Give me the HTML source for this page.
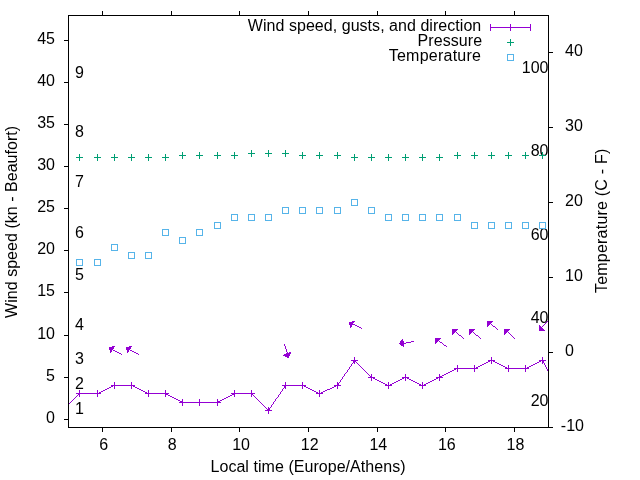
<!DOCTYPE html><html><head><meta charset="utf-8"><style>html,body{margin:0;padding:0;background:#fff}svg{display:block;will-change:transform}text{font-family:"Liberation Sans",sans-serif;font-size:16px;fill:#000}</style></head><body>
<svg width="640" height="480" viewBox="0 0 640 480">
<rect width="640" height="480" fill="#fff"/>
<text x="75" y="414.2">1</text>
<text x="75" y="389.0">2</text>
<text x="75" y="363.7">3</text>
<text x="75" y="330.1">4</text>
<text x="75" y="279.7">5</text>
<text x="75" y="237.6">6</text>
<text x="75" y="187.2">7</text>
<text x="75" y="136.7">8</text>
<text x="75" y="77.9">9</text>
<text x="548.5" y="406.0" text-anchor="end">20</text>
<text x="548.5" y="322.8" text-anchor="end">40</text>
<text x="548.5" y="239.6" text-anchor="end">60</text>
<text x="548.5" y="156.3" text-anchor="end">80</text>
<text x="548.5" y="73.1" text-anchor="end">100</text>
<g shape-rendering="crispEdges">
<path fill="#009e73" d="M510 39h1v1h-1zM510 40h1v1h-1zM510 41h1v1h-1zM507 42h7v1h-7zM510 43h1v1h-1zM510 44h1v1h-1zM510 45h1v1h-1zM251 150h1v1h-1zM268 150h1v1h-1zM285 150h1v1h-1zM251 151h1v1h-1zM268 151h1v1h-1zM285 151h1v1h-1zM182 152h1v1h-1zM199 152h1v1h-1zM217 152h1v1h-1zM234 152h1v1h-1zM251 152h1v1h-1zM268 152h1v1h-1zM285 152h1v1h-1zM302 152h1v1h-1zM319 152h1v1h-1zM337 152h1v1h-1zM457 152h1v1h-1zM474 152h1v1h-1zM491 152h1v1h-1zM508 152h1v1h-1zM525 152h1v1h-1zM542 152h1v1h-1zM182 153h1v1h-1zM199 153h1v1h-1zM217 153h1v1h-1zM234 153h1v1h-1zM248 153h7v1h-7zM265 153h7v1h-7zM282 153h7v1h-7zM302 153h1v1h-1zM319 153h1v1h-1zM337 153h1v1h-1zM457 153h1v1h-1zM474 153h1v1h-1zM491 153h1v1h-1zM508 153h1v1h-1zM525 153h1v1h-1zM542 153h1v1h-1zM79 154h1v1h-1zM97 154h1v1h-1zM114 154h1v1h-1zM131 154h1v1h-1zM148 154h1v1h-1zM165 154h1v1h-1zM182 154h1v1h-1zM199 154h1v1h-1zM217 154h1v1h-1zM234 154h1v1h-1zM251 154h1v1h-1zM268 154h1v1h-1zM285 154h1v1h-1zM302 154h1v1h-1zM319 154h1v1h-1zM337 154h1v1h-1zM354 154h1v1h-1zM371 154h1v1h-1zM388 154h1v1h-1zM405 154h1v1h-1zM422 154h1v1h-1zM439 154h1v1h-1zM457 154h1v1h-1zM474 154h1v1h-1zM491 154h1v1h-1zM508 154h1v1h-1zM525 154h1v1h-1zM542 154h1v1h-1zM79 155h1v1h-1zM97 155h1v1h-1zM114 155h1v1h-1zM131 155h1v1h-1zM148 155h1v1h-1zM165 155h1v1h-1zM179 155h7v1h-7zM196 155h7v1h-7zM214 155h7v1h-7zM231 155h7v1h-7zM251 155h1v1h-1zM268 155h1v1h-1zM285 155h1v1h-1zM299 155h7v1h-7zM316 155h7v1h-7zM334 155h7v1h-7zM354 155h1v1h-1zM371 155h1v1h-1zM388 155h1v1h-1zM405 155h1v1h-1zM422 155h1v1h-1zM439 155h1v1h-1zM454 155h7v1h-7zM471 155h7v1h-7zM488 155h7v1h-7zM505 155h7v1h-7zM522 155h7v1h-7zM539 155h7v1h-7zM79 156h1v1h-1zM97 156h1v1h-1zM114 156h1v1h-1zM131 156h1v1h-1zM148 156h1v1h-1zM165 156h1v1h-1zM182 156h1v1h-1zM199 156h1v1h-1zM217 156h1v1h-1zM234 156h1v1h-1zM251 156h1v1h-1zM268 156h1v1h-1zM285 156h1v1h-1zM302 156h1v1h-1zM319 156h1v1h-1zM337 156h1v1h-1zM354 156h1v1h-1zM371 156h1v1h-1zM388 156h1v1h-1zM405 156h1v1h-1zM422 156h1v1h-1zM439 156h1v1h-1zM457 156h1v1h-1zM474 156h1v1h-1zM491 156h1v1h-1zM508 156h1v1h-1zM525 156h1v1h-1zM542 156h1v1h-1zM76 157h7v1h-7zM94 157h7v1h-7zM111 157h7v1h-7zM128 157h7v1h-7zM145 157h7v1h-7zM162 157h7v1h-7zM182 157h1v1h-1zM199 157h1v1h-1zM217 157h1v1h-1zM234 157h1v1h-1zM302 157h1v1h-1zM319 157h1v1h-1zM337 157h1v1h-1zM351 157h7v1h-7zM368 157h7v1h-7zM385 157h7v1h-7zM402 157h7v1h-7zM419 157h7v1h-7zM436 157h7v1h-7zM457 157h1v1h-1zM474 157h1v1h-1zM491 157h1v1h-1zM508 157h1v1h-1zM525 157h1v1h-1zM542 157h1v1h-1zM79 158h1v1h-1zM97 158h1v1h-1zM114 158h1v1h-1zM131 158h1v1h-1zM148 158h1v1h-1zM165 158h1v1h-1zM182 158h1v1h-1zM199 158h1v1h-1zM217 158h1v1h-1zM234 158h1v1h-1zM302 158h1v1h-1zM319 158h1v1h-1zM337 158h1v1h-1zM354 158h1v1h-1zM371 158h1v1h-1zM388 158h1v1h-1zM405 158h1v1h-1zM422 158h1v1h-1zM439 158h1v1h-1zM457 158h1v1h-1zM474 158h1v1h-1zM491 158h1v1h-1zM508 158h1v1h-1zM525 158h1v1h-1zM542 158h1v1h-1zM79 159h1v1h-1zM97 159h1v1h-1zM114 159h1v1h-1zM131 159h1v1h-1zM148 159h1v1h-1zM165 159h1v1h-1zM354 159h1v1h-1zM371 159h1v1h-1zM388 159h1v1h-1zM405 159h1v1h-1zM422 159h1v1h-1zM439 159h1v1h-1zM79 160h1v1h-1zM97 160h1v1h-1zM114 160h1v1h-1zM131 160h1v1h-1zM148 160h1v1h-1zM165 160h1v1h-1zM354 160h1v1h-1zM371 160h1v1h-1zM388 160h1v1h-1zM405 160h1v1h-1zM422 160h1v1h-1zM439 160h1v1h-1z"/>
<path fill="#56b4e9" d="M507 54h7v1h-7zM507 55h1v1h-1zM513 55h1v1h-1zM507 56h1v1h-1zM513 56h1v1h-1zM507 57h1v1h-1zM513 57h1v1h-1zM507 58h1v1h-1zM513 58h1v1h-1zM507 59h1v1h-1zM513 59h1v1h-1zM507 60h7v1h-7zM351 199h7v1h-7zM351 200h1v1h-1zM357 200h1v1h-1zM351 201h1v1h-1zM357 201h1v1h-1zM351 202h1v1h-1zM357 202h1v1h-1zM351 203h1v1h-1zM357 203h1v1h-1zM351 204h1v1h-1zM357 204h1v1h-1zM351 205h7v1h-7zM282 207h7v1h-7zM299 207h7v1h-7zM316 207h7v1h-7zM334 207h7v1h-7zM368 207h7v1h-7zM282 208h1v1h-1zM288 208h1v1h-1zM299 208h1v1h-1zM305 208h1v1h-1zM316 208h1v1h-1zM322 208h1v1h-1zM334 208h1v1h-1zM340 208h1v1h-1zM368 208h1v1h-1zM374 208h1v1h-1zM282 209h1v1h-1zM288 209h1v1h-1zM299 209h1v1h-1zM305 209h1v1h-1zM316 209h1v1h-1zM322 209h1v1h-1zM334 209h1v1h-1zM340 209h1v1h-1zM368 209h1v1h-1zM374 209h1v1h-1zM282 210h1v1h-1zM288 210h1v1h-1zM299 210h1v1h-1zM305 210h1v1h-1zM316 210h1v1h-1zM322 210h1v1h-1zM334 210h1v1h-1zM340 210h1v1h-1zM368 210h1v1h-1zM374 210h1v1h-1zM282 211h1v1h-1zM288 211h1v1h-1zM299 211h1v1h-1zM305 211h1v1h-1zM316 211h1v1h-1zM322 211h1v1h-1zM334 211h1v1h-1zM340 211h1v1h-1zM368 211h1v1h-1zM374 211h1v1h-1zM282 212h1v1h-1zM288 212h1v1h-1zM299 212h1v1h-1zM305 212h1v1h-1zM316 212h1v1h-1zM322 212h1v1h-1zM334 212h1v1h-1zM340 212h1v1h-1zM368 212h1v1h-1zM374 212h1v1h-1zM282 213h7v1h-7zM299 213h7v1h-7zM316 213h7v1h-7zM334 213h7v1h-7zM368 213h7v1h-7zM231 214h7v1h-7zM248 214h7v1h-7zM265 214h7v1h-7zM385 214h7v1h-7zM402 214h7v1h-7zM419 214h7v1h-7zM436 214h7v1h-7zM454 214h7v1h-7zM231 215h1v1h-1zM237 215h1v1h-1zM248 215h1v1h-1zM254 215h1v1h-1zM265 215h1v1h-1zM271 215h1v1h-1zM385 215h1v1h-1zM391 215h1v1h-1zM402 215h1v1h-1zM408 215h1v1h-1zM419 215h1v1h-1zM425 215h1v1h-1zM436 215h1v1h-1zM442 215h1v1h-1zM454 215h1v1h-1zM460 215h1v1h-1zM231 216h1v1h-1zM237 216h1v1h-1zM248 216h1v1h-1zM254 216h1v1h-1zM265 216h1v1h-1zM271 216h1v1h-1zM385 216h1v1h-1zM391 216h1v1h-1zM402 216h1v1h-1zM408 216h1v1h-1zM419 216h1v1h-1zM425 216h1v1h-1zM436 216h1v1h-1zM442 216h1v1h-1zM454 216h1v1h-1zM460 216h1v1h-1zM231 217h1v1h-1zM237 217h1v1h-1zM248 217h1v1h-1zM254 217h1v1h-1zM265 217h1v1h-1zM271 217h1v1h-1zM385 217h1v1h-1zM391 217h1v1h-1zM402 217h1v1h-1zM408 217h1v1h-1zM419 217h1v1h-1zM425 217h1v1h-1zM436 217h1v1h-1zM442 217h1v1h-1zM454 217h1v1h-1zM460 217h1v1h-1zM231 218h1v1h-1zM237 218h1v1h-1zM248 218h1v1h-1zM254 218h1v1h-1zM265 218h1v1h-1zM271 218h1v1h-1zM385 218h1v1h-1zM391 218h1v1h-1zM402 218h1v1h-1zM408 218h1v1h-1zM419 218h1v1h-1zM425 218h1v1h-1zM436 218h1v1h-1zM442 218h1v1h-1zM454 218h1v1h-1zM460 218h1v1h-1zM231 219h1v1h-1zM237 219h1v1h-1zM248 219h1v1h-1zM254 219h1v1h-1zM265 219h1v1h-1zM271 219h1v1h-1zM385 219h1v1h-1zM391 219h1v1h-1zM402 219h1v1h-1zM408 219h1v1h-1zM419 219h1v1h-1zM425 219h1v1h-1zM436 219h1v1h-1zM442 219h1v1h-1zM454 219h1v1h-1zM460 219h1v1h-1zM231 220h7v1h-7zM248 220h7v1h-7zM265 220h7v1h-7zM385 220h7v1h-7zM402 220h7v1h-7zM419 220h7v1h-7zM436 220h7v1h-7zM454 220h7v1h-7zM214 222h7v1h-7zM471 222h7v1h-7zM488 222h7v1h-7zM505 222h7v1h-7zM522 222h7v1h-7zM539 222h7v1h-7zM214 223h1v1h-1zM220 223h1v1h-1zM471 223h1v1h-1zM477 223h1v1h-1zM488 223h1v1h-1zM494 223h1v1h-1zM505 223h1v1h-1zM511 223h1v1h-1zM522 223h1v1h-1zM528 223h1v1h-1zM539 223h1v1h-1zM545 223h1v1h-1zM214 224h1v1h-1zM220 224h1v1h-1zM471 224h1v1h-1zM477 224h1v1h-1zM488 224h1v1h-1zM494 224h1v1h-1zM505 224h1v1h-1zM511 224h1v1h-1zM522 224h1v1h-1zM528 224h1v1h-1zM539 224h1v1h-1zM545 224h1v1h-1zM214 225h1v1h-1zM220 225h1v1h-1zM471 225h1v1h-1zM477 225h1v1h-1zM488 225h1v1h-1zM494 225h1v1h-1zM505 225h1v1h-1zM511 225h1v1h-1zM522 225h1v1h-1zM528 225h1v1h-1zM539 225h1v1h-1zM545 225h1v1h-1zM214 226h1v1h-1zM220 226h1v1h-1zM471 226h1v1h-1zM477 226h1v1h-1zM488 226h1v1h-1zM494 226h1v1h-1zM505 226h1v1h-1zM511 226h1v1h-1zM522 226h1v1h-1zM528 226h1v1h-1zM539 226h1v1h-1zM545 226h1v1h-1zM214 227h1v1h-1zM220 227h1v1h-1zM471 227h1v1h-1zM477 227h1v1h-1zM488 227h1v1h-1zM494 227h1v1h-1zM505 227h1v1h-1zM511 227h1v1h-1zM522 227h1v1h-1zM528 227h1v1h-1zM539 227h1v1h-1zM545 227h1v1h-1zM214 228h7v1h-7zM471 228h7v1h-7zM488 228h7v1h-7zM505 228h7v1h-7zM522 228h7v1h-7zM539 228h7v1h-7zM162 229h7v1h-7zM196 229h7v1h-7zM162 230h1v1h-1zM168 230h1v1h-1zM196 230h1v1h-1zM202 230h1v1h-1zM162 231h1v1h-1zM168 231h1v1h-1zM196 231h1v1h-1zM202 231h1v1h-1zM162 232h1v1h-1zM168 232h1v1h-1zM196 232h1v1h-1zM202 232h1v1h-1zM162 233h1v1h-1zM168 233h1v1h-1zM196 233h1v1h-1zM202 233h1v1h-1zM162 234h1v1h-1zM168 234h1v1h-1zM196 234h1v1h-1zM202 234h1v1h-1zM162 235h7v1h-7zM196 235h7v1h-7zM179 237h7v1h-7zM179 238h1v1h-1zM185 238h1v1h-1zM179 239h1v1h-1zM185 239h1v1h-1zM179 240h1v1h-1zM185 240h1v1h-1zM179 241h1v1h-1zM185 241h1v1h-1zM179 242h1v1h-1zM185 242h1v1h-1zM179 243h7v1h-7zM111 244h7v1h-7zM111 245h1v1h-1zM117 245h1v1h-1zM111 246h1v1h-1zM117 246h1v1h-1zM111 247h1v1h-1zM117 247h1v1h-1zM111 248h1v1h-1zM117 248h1v1h-1zM111 249h1v1h-1zM117 249h1v1h-1zM111 250h7v1h-7zM128 252h7v1h-7zM145 252h7v1h-7zM128 253h1v1h-1zM134 253h1v1h-1zM145 253h1v1h-1zM151 253h1v1h-1zM128 254h1v1h-1zM134 254h1v1h-1zM145 254h1v1h-1zM151 254h1v1h-1zM128 255h1v1h-1zM134 255h1v1h-1zM145 255h1v1h-1zM151 255h1v1h-1zM128 256h1v1h-1zM134 256h1v1h-1zM145 256h1v1h-1zM151 256h1v1h-1zM128 257h1v1h-1zM134 257h1v1h-1zM145 257h1v1h-1zM151 257h1v1h-1zM128 258h7v1h-7zM145 258h7v1h-7zM76 259h7v1h-7zM94 259h7v1h-7zM76 260h1v1h-1zM82 260h1v1h-1zM94 260h1v1h-1zM100 260h1v1h-1zM76 261h1v1h-1zM82 261h1v1h-1zM94 261h1v1h-1zM100 261h1v1h-1zM76 262h1v1h-1zM82 262h1v1h-1zM94 262h1v1h-1zM100 262h1v1h-1zM76 263h1v1h-1zM82 263h1v1h-1zM94 263h1v1h-1zM100 263h1v1h-1zM76 264h1v1h-1zM82 264h1v1h-1zM94 264h1v1h-1zM100 264h1v1h-1zM76 265h7v1h-7zM94 265h7v1h-7z"/>
<path fill="#9400d3" d="M490 24h1v1h-1zM510 24h1v1h-1zM530 24h1v1h-1zM490 25h1v1h-1zM510 25h1v1h-1zM530 25h1v1h-1zM490 26h1v1h-1zM510 26h1v1h-1zM530 26h1v1h-1zM490 27h41v1h-41zM490 28h1v1h-1zM510 28h1v1h-1zM530 28h1v1h-1zM490 29h1v1h-1zM510 29h1v1h-1zM530 29h1v1h-1zM490 30h1v1h-1zM510 30h1v1h-1zM530 30h1v1h-1zM548 320h1v1h-1zM352 321h3v1h-3zM487 321h6v1h-6zM547 321h1v1h-1zM349 322h5v1h-5zM487 322h5v1h-5zM546 322h1v1h-1zM349 323h4v1h-4zM487 323h4v1h-4zM545 323h1v1h-1zM349 324h6v1h-6zM487 324h3v1h-3zM491 324h1v1h-1zM544 324h1v1h-1zM350 325h2v1h-2zM355 325h2v1h-2zM487 325h2v1h-2zM492 325h1v1h-1zM539 325h1v1h-1zM543 325h1v1h-1zM350 326h2v1h-2zM357 326h2v1h-2zM487 326h1v1h-1zM493 326h2v1h-2zM539 326h2v1h-2zM542 326h1v1h-1zM350 327h1v1h-1zM359 327h2v1h-2zM495 327h1v1h-1zM539 327h3v1h-3zM361 328h1v1h-1zM496 328h1v1h-1zM539 328h4v1h-4zM452 329h6v1h-6zM469 329h6v1h-6zM497 329h1v1h-1zM504 329h6v1h-6zM539 329h5v1h-5zM452 330h5v1h-5zM469 330h5v1h-5zM504 330h5v1h-5zM539 330h6v1h-6zM452 331h4v1h-4zM469 331h4v1h-4zM504 331h4v1h-4zM452 332h3v1h-3zM456 332h1v1h-1zM469 332h3v1h-3zM473 332h1v1h-1zM504 332h3v1h-3zM508 332h1v1h-1zM452 333h2v1h-2zM457 333h1v1h-1zM469 333h2v1h-2zM474 333h1v1h-1zM504 333h2v1h-2zM509 333h1v1h-1zM452 334h1v1h-1zM458 334h1v1h-1zM469 334h1v1h-1zM475 334h1v1h-1zM504 334h1v1h-1zM510 334h1v1h-1zM459 335h2v1h-2zM476 335h2v1h-2zM511 335h1v1h-1zM461 336h1v1h-1zM478 336h1v1h-1zM512 336h1v1h-1zM462 337h1v1h-1zM479 337h1v1h-1zM513 337h1v1h-1zM435 338h6v1h-6zM463 338h1v1h-1zM480 338h1v1h-1zM514 338h1v1h-1zM402 339h1v1h-1zM435 339h5v1h-5zM401 340h2v1h-2zM435 340h4v1h-4zM400 341h4v1h-4zM411 341h3v1h-3zM435 341h3v1h-3zM439 341h1v1h-1zM400 342h4v1h-4zM406 342h5v1h-5zM435 342h2v1h-2zM440 342h2v1h-2zM399 343h7v1h-7zM435 343h1v1h-1zM442 343h1v1h-1zM284 344h1v1h-1zM400 344h4v1h-4zM443 344h1v1h-1zM284 345h1v1h-1zM401 345h3v1h-3zM444 345h2v1h-2zM112 346h3v1h-3zM129 346h3v1h-3zM285 346h1v1h-1zM403 346h1v1h-1zM446 346h1v1h-1zM109 347h5v1h-5zM126 347h5v1h-5zM285 347h1v1h-1zM109 348h5v1h-5zM126 348h5v1h-5zM285 348h1v1h-1zM109 349h4v1h-4zM126 349h4v1h-4zM286 349h1v1h-1zM110 350h2v1h-2zM113 350h2v1h-2zM127 350h2v1h-2zM130 350h2v1h-2zM286 350h1v1h-1zM110 351h2v1h-2zM115 351h2v1h-2zM127 351h2v1h-2zM132 351h2v1h-2zM286 351h1v1h-1zM110 352h1v1h-1zM117 352h2v1h-2zM127 352h1v1h-1zM134 352h2v1h-2zM287 352h1v1h-1zM289 352h2v1h-2zM119 353h2v1h-2zM136 353h2v1h-2zM286 353h5v1h-5zM121 354h1v1h-1zM138 354h1v1h-1zM284 354h6v1h-6zM283 355h7v1h-7zM285 356h4v1h-4zM287 357h2v1h-2zM354 357h1v1h-1zM491 357h1v1h-1zM542 357h1v1h-1zM354 358h1v1h-1zM491 358h1v1h-1zM542 358h1v1h-1zM354 359h1v1h-1zM491 359h1v1h-1zM542 359h1v1h-1zM351 360h7v1h-7zM488 360h7v1h-7zM539 360h7v1h-7zM353 361h3v1h-3zM488 361h2v1h-2zM491 361h1v1h-1zM493 361h2v1h-2zM539 361h2v1h-2zM542 361h2v1h-2zM353 362h2v1h-2zM356 362h1v1h-1zM486 362h2v1h-2zM491 362h1v1h-1zM495 362h2v1h-2zM537 362h2v1h-2zM542 362h2v1h-2zM352 363h1v1h-1zM354 363h1v1h-1zM357 363h1v1h-1zM484 363h2v1h-2zM491 363h1v1h-1zM497 363h2v1h-2zM535 363h2v1h-2zM542 363h1v1h-1zM544 363h1v1h-1zM351 364h1v1h-1zM358 364h1v1h-1zM482 364h2v1h-2zM499 364h2v1h-2zM533 364h2v1h-2zM544 364h1v1h-1zM351 365h1v1h-1zM359 365h1v1h-1zM457 365h1v1h-1zM474 365h1v1h-1zM480 365h2v1h-2zM501 365h2v1h-2zM508 365h1v1h-1zM525 365h1v1h-1zM531 365h2v1h-2zM545 365h1v1h-1zM350 366h1v1h-1zM360 366h1v1h-1zM457 366h1v1h-1zM474 366h1v1h-1zM478 366h2v1h-2zM503 366h2v1h-2zM508 366h1v1h-1zM525 366h1v1h-1zM529 366h2v1h-2zM545 366h1v1h-1zM349 367h1v1h-1zM361 367h1v1h-1zM457 367h1v1h-1zM474 367h1v1h-1zM476 367h2v1h-2zM505 367h2v1h-2zM508 367h1v1h-1zM525 367h1v1h-1zM527 367h2v1h-2zM546 367h1v1h-1zM349 368h1v1h-1zM362 368h1v1h-1zM454 368h24v1h-24zM505 368h24v1h-24zM546 368h1v1h-1zM348 369h1v1h-1zM363 369h1v1h-1zM454 369h2v1h-2zM457 369h1v1h-1zM474 369h1v1h-1zM508 369h1v1h-1zM525 369h1v1h-1zM547 369h1v1h-1zM347 370h1v1h-1zM364 370h1v1h-1zM452 370h2v1h-2zM457 370h1v1h-1zM474 370h1v1h-1zM508 370h1v1h-1zM525 370h1v1h-1zM547 370h1v1h-1zM347 371h1v1h-1zM365 371h1v1h-1zM450 371h2v1h-2zM457 371h1v1h-1zM474 371h1v1h-1zM508 371h1v1h-1zM525 371h1v1h-1zM548 371h1v1h-1zM346 372h1v1h-1zM366 372h1v1h-1zM448 372h2v1h-2zM548 372h1v1h-1zM345 373h1v1h-1zM367 373h1v1h-1zM446 373h2v1h-2zM344 374h1v1h-1zM368 374h1v1h-1zM371 374h1v1h-1zM405 374h1v1h-1zM439 374h1v1h-1zM444 374h2v1h-2zM344 375h1v1h-1zM369 375h1v1h-1zM371 375h1v1h-1zM405 375h1v1h-1zM439 375h1v1h-1zM442 375h2v1h-2zM343 376h1v1h-1zM370 376h2v1h-2zM405 376h1v1h-1zM439 376h3v1h-3zM342 377h1v1h-1zM368 377h7v1h-7zM402 377h7v1h-7zM436 377h7v1h-7zM342 378h1v1h-1zM371 378h1v1h-1zM373 378h2v1h-2zM402 378h2v1h-2zM405 378h1v1h-1zM407 378h2v1h-2zM436 378h2v1h-2zM439 378h1v1h-1zM341 379h1v1h-1zM371 379h1v1h-1zM375 379h2v1h-2zM400 379h2v1h-2zM405 379h1v1h-1zM409 379h2v1h-2zM434 379h2v1h-2zM439 379h1v1h-1zM340 380h1v1h-1zM371 380h1v1h-1zM377 380h2v1h-2zM398 380h2v1h-2zM405 380h1v1h-1zM411 380h2v1h-2zM432 380h2v1h-2zM439 380h1v1h-1zM340 381h1v1h-1zM379 381h2v1h-2zM396 381h2v1h-2zM413 381h2v1h-2zM430 381h2v1h-2zM114 382h1v1h-1zM131 382h1v1h-1zM285 382h1v1h-1zM302 382h1v1h-1zM337 382h1v1h-1zM339 382h1v1h-1zM381 382h2v1h-2zM388 382h1v1h-1zM394 382h2v1h-2zM415 382h2v1h-2zM422 382h1v1h-1zM428 382h2v1h-2zM114 383h1v1h-1zM131 383h1v1h-1zM285 383h1v1h-1zM302 383h1v1h-1zM337 383h2v1h-2zM383 383h2v1h-2zM388 383h1v1h-1zM392 383h2v1h-2zM417 383h2v1h-2zM422 383h1v1h-1zM426 383h2v1h-2zM114 384h1v1h-1zM131 384h1v1h-1zM285 384h1v1h-1zM302 384h1v1h-1zM337 384h2v1h-2zM385 384h2v1h-2zM388 384h1v1h-1zM390 384h2v1h-2zM419 384h2v1h-2zM422 384h1v1h-1zM424 384h2v1h-2zM111 385h24v1h-24zM282 385h24v1h-24zM334 385h7v1h-7zM385 385h7v1h-7zM419 385h7v1h-7zM111 386h2v1h-2zM114 386h1v1h-1zM131 386h1v1h-1zM133 386h2v1h-2zM284 386h2v1h-2zM302 386h1v1h-1zM304 386h2v1h-2zM334 386h2v1h-2zM337 386h1v1h-1zM388 386h1v1h-1zM422 386h1v1h-1zM109 387h2v1h-2zM114 387h1v1h-1zM131 387h1v1h-1zM135 387h2v1h-2zM284 387h2v1h-2zM302 387h1v1h-1zM306 387h2v1h-2zM332 387h2v1h-2zM337 387h1v1h-1zM388 387h1v1h-1zM422 387h1v1h-1zM107 388h2v1h-2zM114 388h1v1h-1zM131 388h1v1h-1zM137 388h2v1h-2zM283 388h1v1h-1zM285 388h1v1h-1zM302 388h1v1h-1zM308 388h2v1h-2zM330 388h2v1h-2zM337 388h1v1h-1zM388 388h1v1h-1zM422 388h1v1h-1zM105 389h2v1h-2zM139 389h2v1h-2zM282 389h1v1h-1zM310 389h2v1h-2zM327 389h3v1h-3zM79 390h1v1h-1zM97 390h1v1h-1zM103 390h2v1h-2zM141 390h2v1h-2zM148 390h1v1h-1zM165 390h1v1h-1zM234 390h1v1h-1zM251 390h1v1h-1zM282 390h1v1h-1zM312 390h2v1h-2zM319 390h1v1h-1zM325 390h2v1h-2zM79 391h1v1h-1zM97 391h1v1h-1zM101 391h2v1h-2zM143 391h2v1h-2zM148 391h1v1h-1zM165 391h1v1h-1zM234 391h1v1h-1zM251 391h1v1h-1zM281 391h1v1h-1zM314 391h2v1h-2zM319 391h1v1h-1zM323 391h2v1h-2zM79 392h1v1h-1zM97 392h1v1h-1zM99 392h2v1h-2zM145 392h2v1h-2zM148 392h1v1h-1zM165 392h1v1h-1zM234 392h1v1h-1zM251 392h1v1h-1zM280 392h1v1h-1zM316 392h2v1h-2zM319 392h1v1h-1zM321 392h2v1h-2zM76 393h25v1h-25zM145 393h24v1h-24zM231 393h24v1h-24zM280 393h1v1h-1zM316 393h7v1h-7zM78 394h2v1h-2zM97 394h1v1h-1zM148 394h1v1h-1zM165 394h3v1h-3zM232 394h3v1h-3zM251 394h2v1h-2zM279 394h1v1h-1zM319 394h1v1h-1zM77 395h1v1h-1zM79 395h1v1h-1zM97 395h1v1h-1zM148 395h1v1h-1zM165 395h1v1h-1zM168 395h2v1h-2zM230 395h2v1h-2zM234 395h1v1h-1zM251 395h1v1h-1zM253 395h1v1h-1zM278 395h1v1h-1zM319 395h1v1h-1zM76 396h1v1h-1zM79 396h1v1h-1zM97 396h1v1h-1zM148 396h1v1h-1zM165 396h1v1h-1zM170 396h2v1h-2zM228 396h2v1h-2zM234 396h1v1h-1zM251 396h1v1h-1zM254 396h1v1h-1zM278 396h1v1h-1zM319 396h1v1h-1zM75 397h1v1h-1zM172 397h2v1h-2zM226 397h2v1h-2zM255 397h1v1h-1zM277 397h1v1h-1zM74 398h1v1h-1zM174 398h2v1h-2zM224 398h2v1h-2zM256 398h1v1h-1zM276 398h1v1h-1zM73 399h1v1h-1zM176 399h2v1h-2zM182 399h1v1h-1zM199 399h1v1h-1zM217 399h1v1h-1zM222 399h2v1h-2zM257 399h1v1h-1zM275 399h1v1h-1zM72 400h1v1h-1zM178 400h2v1h-2zM182 400h1v1h-1zM199 400h1v1h-1zM217 400h1v1h-1zM220 400h2v1h-2zM258 400h1v1h-1zM275 400h1v1h-1zM71 401h1v1h-1zM180 401h3v1h-3zM199 401h1v1h-1zM217 401h3v1h-3zM259 401h1v1h-1zM274 401h1v1h-1zM70 402h1v1h-1zM179 402h42v1h-42zM260 402h1v1h-1zM273 402h1v1h-1zM69 403h1v1h-1zM182 403h1v1h-1zM199 403h1v1h-1zM217 403h1v1h-1zM261 403h1v1h-1zM273 403h1v1h-1zM68 404h1v1h-1zM182 404h1v1h-1zM199 404h1v1h-1zM217 404h1v1h-1zM262 404h1v1h-1zM272 404h1v1h-1zM182 405h1v1h-1zM199 405h1v1h-1zM217 405h1v1h-1zM263 405h1v1h-1zM271 405h1v1h-1zM264 406h1v1h-1zM271 406h1v1h-1zM265 407h1v1h-1zM268 407h1v1h-1zM270 407h1v1h-1zM266 408h1v1h-1zM268 408h2v1h-2zM267 409h3v1h-3zM265 410h7v1h-7zM268 411h1v1h-1zM268 412h1v1h-1zM268 413h1v1h-1z"/>
<path fill="#000" d="M102 11h1v1h-1zM171 11h1v1h-1zM239 11h1v1h-1zM308 11h1v1h-1zM377 11h1v1h-1zM445 11h1v1h-1zM514 11h1v1h-1zM102 12h1v1h-1zM171 12h1v1h-1zM239 12h1v1h-1zM308 12h1v1h-1zM377 12h1v1h-1zM445 12h1v1h-1zM514 12h1v1h-1zM102 13h1v1h-1zM171 13h1v1h-1zM239 13h1v1h-1zM308 13h1v1h-1zM377 13h1v1h-1zM445 13h1v1h-1zM514 13h1v1h-1zM102 14h1v1h-1zM171 14h1v1h-1zM239 14h1v1h-1zM308 14h1v1h-1zM377 14h1v1h-1zM445 14h1v1h-1zM514 14h1v1h-1zM68 15h481v1h-481zM68 16h1v1h-1zM548 16h1v1h-1zM68 17h1v1h-1zM548 17h1v1h-1zM68 18h1v1h-1zM548 18h1v1h-1zM68 19h1v1h-1zM548 19h1v1h-1zM68 20h1v1h-1zM548 20h1v1h-1zM68 21h1v1h-1zM548 21h1v1h-1zM68 22h1v1h-1zM548 22h1v1h-1zM68 23h1v1h-1zM548 23h1v1h-1zM68 24h1v1h-1zM548 24h1v1h-1zM68 25h1v1h-1zM548 25h1v1h-1zM68 26h1v1h-1zM548 26h1v1h-1zM68 27h1v1h-1zM548 27h1v1h-1zM68 28h1v1h-1zM548 28h1v1h-1zM68 29h1v1h-1zM548 29h1v1h-1zM68 30h1v1h-1zM548 30h1v1h-1zM68 31h1v1h-1zM548 31h1v1h-1zM68 32h1v1h-1zM548 32h1v1h-1zM68 33h1v1h-1zM548 33h1v1h-1zM68 34h1v1h-1zM548 34h1v1h-1zM68 35h1v1h-1zM548 35h1v1h-1zM68 36h1v1h-1zM548 36h1v1h-1zM68 37h1v1h-1zM548 37h1v1h-1zM68 38h1v1h-1zM548 38h1v1h-1zM68 39h1v1h-1zM548 39h1v1h-1zM64 40h5v1h-5zM548 40h1v1h-1zM68 41h1v1h-1zM548 41h1v1h-1zM68 42h1v1h-1zM548 42h1v1h-1zM68 43h1v1h-1zM548 43h1v1h-1zM68 44h1v1h-1zM548 44h1v1h-1zM68 45h1v1h-1zM548 45h1v1h-1zM68 46h1v1h-1zM548 46h1v1h-1zM68 47h1v1h-1zM548 47h1v1h-1zM68 48h1v1h-1zM548 48h1v1h-1zM68 49h1v1h-1zM548 49h1v1h-1zM68 50h1v1h-1zM548 50h1v1h-1zM68 51h1v1h-1zM548 51h1v1h-1zM68 52h1v1h-1zM548 52h5v1h-5zM68 53h1v1h-1zM548 53h1v1h-1zM68 54h1v1h-1zM548 54h1v1h-1zM68 55h1v1h-1zM548 55h1v1h-1zM68 56h1v1h-1zM548 56h1v1h-1zM68 57h1v1h-1zM548 57h1v1h-1zM68 58h1v1h-1zM548 58h1v1h-1zM68 59h1v1h-1zM548 59h1v1h-1zM68 60h1v1h-1zM548 60h1v1h-1zM68 61h1v1h-1zM548 61h1v1h-1zM68 62h1v1h-1zM548 62h1v1h-1zM68 63h1v1h-1zM548 63h1v1h-1zM68 64h1v1h-1zM548 64h1v1h-1zM68 65h1v1h-1zM548 65h1v1h-1zM68 66h1v1h-1zM548 66h1v1h-1zM68 67h1v1h-1zM548 67h1v1h-1zM68 68h1v1h-1zM548 68h1v1h-1zM68 69h1v1h-1zM548 69h1v1h-1zM68 70h1v1h-1zM548 70h1v1h-1zM68 71h1v1h-1zM548 71h1v1h-1zM68 72h1v1h-1zM548 72h1v1h-1zM68 73h1v1h-1zM548 73h1v1h-1zM68 74h1v1h-1zM548 74h1v1h-1zM68 75h1v1h-1zM548 75h1v1h-1zM68 76h1v1h-1zM548 76h1v1h-1zM68 77h1v1h-1zM548 77h1v1h-1zM68 78h1v1h-1zM548 78h1v1h-1zM68 79h1v1h-1zM548 79h1v1h-1zM68 80h1v1h-1zM548 80h1v1h-1zM68 81h1v1h-1zM548 81h1v1h-1zM64 82h5v1h-5zM548 82h1v1h-1zM68 83h1v1h-1zM548 83h1v1h-1zM68 84h1v1h-1zM548 84h1v1h-1zM68 85h1v1h-1zM548 85h1v1h-1zM68 86h1v1h-1zM548 86h1v1h-1zM68 87h1v1h-1zM548 87h1v1h-1zM68 88h1v1h-1zM548 88h1v1h-1zM68 89h1v1h-1zM548 89h1v1h-1zM68 90h1v1h-1zM548 90h1v1h-1zM68 91h1v1h-1zM548 91h1v1h-1zM68 92h1v1h-1zM548 92h1v1h-1zM68 93h1v1h-1zM548 93h1v1h-1zM68 94h1v1h-1zM548 94h1v1h-1zM68 95h1v1h-1zM548 95h1v1h-1zM68 96h1v1h-1zM548 96h1v1h-1zM68 97h1v1h-1zM548 97h1v1h-1zM68 98h1v1h-1zM548 98h1v1h-1zM68 99h1v1h-1zM548 99h1v1h-1zM68 100h1v1h-1zM548 100h1v1h-1zM68 101h1v1h-1zM548 101h1v1h-1zM68 102h1v1h-1zM548 102h1v1h-1zM68 103h1v1h-1zM548 103h1v1h-1zM68 104h1v1h-1zM548 104h1v1h-1zM68 105h1v1h-1zM548 105h1v1h-1zM68 106h1v1h-1zM548 106h1v1h-1zM68 107h1v1h-1zM548 107h1v1h-1zM68 108h1v1h-1zM548 108h1v1h-1zM68 109h1v1h-1zM548 109h1v1h-1zM68 110h1v1h-1zM548 110h1v1h-1zM68 111h1v1h-1zM548 111h1v1h-1zM68 112h1v1h-1zM548 112h1v1h-1zM68 113h1v1h-1zM548 113h1v1h-1zM68 114h1v1h-1zM548 114h1v1h-1zM68 115h1v1h-1zM548 115h1v1h-1zM68 116h1v1h-1zM548 116h1v1h-1zM68 117h1v1h-1zM548 117h1v1h-1zM68 118h1v1h-1zM548 118h1v1h-1zM68 119h1v1h-1zM548 119h1v1h-1zM68 120h1v1h-1zM548 120h1v1h-1zM68 121h1v1h-1zM548 121h1v1h-1zM68 122h1v1h-1zM548 122h1v1h-1zM68 123h1v1h-1zM548 123h1v1h-1zM64 124h5v1h-5zM548 124h1v1h-1zM68 125h1v1h-1zM548 125h1v1h-1zM68 126h1v1h-1zM548 126h1v1h-1zM68 127h1v1h-1zM548 127h5v1h-5zM68 128h1v1h-1zM548 128h1v1h-1zM68 129h1v1h-1zM548 129h1v1h-1zM68 130h1v1h-1zM548 130h1v1h-1zM68 131h1v1h-1zM548 131h1v1h-1zM68 132h1v1h-1zM548 132h1v1h-1zM68 133h1v1h-1zM548 133h1v1h-1zM68 134h1v1h-1zM548 134h1v1h-1zM68 135h1v1h-1zM548 135h1v1h-1zM68 136h1v1h-1zM548 136h1v1h-1zM68 137h1v1h-1zM548 137h1v1h-1zM68 138h1v1h-1zM548 138h1v1h-1zM68 139h1v1h-1zM548 139h1v1h-1zM68 140h1v1h-1zM548 140h1v1h-1zM68 141h1v1h-1zM548 141h1v1h-1zM68 142h1v1h-1zM548 142h1v1h-1zM68 143h1v1h-1zM548 143h1v1h-1zM68 144h1v1h-1zM548 144h1v1h-1zM68 145h1v1h-1zM548 145h1v1h-1zM68 146h1v1h-1zM548 146h1v1h-1zM68 147h1v1h-1zM548 147h1v1h-1zM68 148h1v1h-1zM548 148h1v1h-1zM68 149h1v1h-1zM548 149h1v1h-1zM68 150h1v1h-1zM548 150h1v1h-1zM68 151h1v1h-1zM548 151h1v1h-1zM68 152h1v1h-1zM548 152h1v1h-1zM68 153h1v1h-1zM548 153h1v1h-1zM68 154h1v1h-1zM548 154h1v1h-1zM68 155h1v1h-1zM548 155h1v1h-1zM68 156h1v1h-1zM548 156h1v1h-1zM68 157h1v1h-1zM548 157h1v1h-1zM68 158h1v1h-1zM548 158h1v1h-1zM68 159h1v1h-1zM548 159h1v1h-1zM68 160h1v1h-1zM548 160h1v1h-1zM68 161h1v1h-1zM548 161h1v1h-1zM68 162h1v1h-1zM548 162h1v1h-1zM68 163h1v1h-1zM548 163h1v1h-1zM68 164h1v1h-1zM548 164h1v1h-1zM68 165h1v1h-1zM548 165h1v1h-1zM64 166h5v1h-5zM548 166h1v1h-1zM68 167h1v1h-1zM548 167h1v1h-1zM68 168h1v1h-1zM548 168h1v1h-1zM68 169h1v1h-1zM548 169h1v1h-1zM68 170h1v1h-1zM548 170h1v1h-1zM68 171h1v1h-1zM548 171h1v1h-1zM68 172h1v1h-1zM548 172h1v1h-1zM68 173h1v1h-1zM548 173h1v1h-1zM68 174h1v1h-1zM548 174h1v1h-1zM68 175h1v1h-1zM548 175h1v1h-1zM68 176h1v1h-1zM548 176h1v1h-1zM68 177h1v1h-1zM548 177h1v1h-1zM68 178h1v1h-1zM548 178h1v1h-1zM68 179h1v1h-1zM548 179h1v1h-1zM68 180h1v1h-1zM548 180h1v1h-1zM68 181h1v1h-1zM548 181h1v1h-1zM68 182h1v1h-1zM548 182h1v1h-1zM68 183h1v1h-1zM548 183h1v1h-1zM68 184h1v1h-1zM548 184h1v1h-1zM68 185h1v1h-1zM548 185h1v1h-1zM68 186h1v1h-1zM548 186h1v1h-1zM68 187h1v1h-1zM548 187h1v1h-1zM68 188h1v1h-1zM548 188h1v1h-1zM68 189h1v1h-1zM548 189h1v1h-1zM68 190h1v1h-1zM548 190h1v1h-1zM68 191h1v1h-1zM548 191h1v1h-1zM68 192h1v1h-1zM548 192h1v1h-1zM68 193h1v1h-1zM548 193h1v1h-1zM68 194h1v1h-1zM548 194h1v1h-1zM68 195h1v1h-1zM548 195h1v1h-1zM68 196h1v1h-1zM548 196h1v1h-1zM68 197h1v1h-1zM548 197h1v1h-1zM68 198h1v1h-1zM548 198h1v1h-1zM68 199h1v1h-1zM548 199h1v1h-1zM68 200h1v1h-1zM548 200h1v1h-1zM68 201h1v1h-1zM548 201h1v1h-1zM68 202h1v1h-1zM548 202h5v1h-5zM68 203h1v1h-1zM548 203h1v1h-1zM68 204h1v1h-1zM548 204h1v1h-1zM68 205h1v1h-1zM548 205h1v1h-1zM68 206h1v1h-1zM548 206h1v1h-1zM68 207h1v1h-1zM548 207h1v1h-1zM64 208h5v1h-5zM548 208h1v1h-1zM68 209h1v1h-1zM548 209h1v1h-1zM68 210h1v1h-1zM548 210h1v1h-1zM68 211h1v1h-1zM548 211h1v1h-1zM68 212h1v1h-1zM548 212h1v1h-1zM68 213h1v1h-1zM548 213h1v1h-1zM68 214h1v1h-1zM548 214h1v1h-1zM68 215h1v1h-1zM548 215h1v1h-1zM68 216h1v1h-1zM548 216h1v1h-1zM68 217h1v1h-1zM548 217h1v1h-1zM68 218h1v1h-1zM548 218h1v1h-1zM68 219h1v1h-1zM548 219h1v1h-1zM68 220h1v1h-1zM548 220h1v1h-1zM68 221h1v1h-1zM548 221h1v1h-1zM68 222h1v1h-1zM548 222h1v1h-1zM68 223h1v1h-1zM548 223h1v1h-1zM68 224h1v1h-1zM548 224h1v1h-1zM68 225h1v1h-1zM548 225h1v1h-1zM68 226h1v1h-1zM548 226h1v1h-1zM68 227h1v1h-1zM548 227h1v1h-1zM68 228h1v1h-1zM548 228h1v1h-1zM68 229h1v1h-1zM548 229h1v1h-1zM68 230h1v1h-1zM548 230h1v1h-1zM68 231h1v1h-1zM548 231h1v1h-1zM68 232h1v1h-1zM548 232h1v1h-1zM68 233h1v1h-1zM548 233h1v1h-1zM68 234h1v1h-1zM548 234h1v1h-1zM68 235h1v1h-1zM548 235h1v1h-1zM68 236h1v1h-1zM548 236h1v1h-1zM68 237h1v1h-1zM548 237h1v1h-1zM68 238h1v1h-1zM548 238h1v1h-1zM68 239h1v1h-1zM548 239h1v1h-1zM68 240h1v1h-1zM548 240h1v1h-1zM68 241h1v1h-1zM548 241h1v1h-1zM68 242h1v1h-1zM548 242h1v1h-1zM68 243h1v1h-1zM548 243h1v1h-1zM68 244h1v1h-1zM548 244h1v1h-1zM68 245h1v1h-1zM548 245h1v1h-1zM68 246h1v1h-1zM548 246h1v1h-1zM68 247h1v1h-1zM548 247h1v1h-1zM68 248h1v1h-1zM548 248h1v1h-1zM68 249h1v1h-1zM548 249h1v1h-1zM64 250h5v1h-5zM548 250h1v1h-1zM68 251h1v1h-1zM548 251h1v1h-1zM68 252h1v1h-1zM548 252h1v1h-1zM68 253h1v1h-1zM548 253h1v1h-1zM68 254h1v1h-1zM548 254h1v1h-1zM68 255h1v1h-1zM548 255h1v1h-1zM68 256h1v1h-1zM548 256h1v1h-1zM68 257h1v1h-1zM548 257h1v1h-1zM68 258h1v1h-1zM548 258h1v1h-1zM68 259h1v1h-1zM548 259h1v1h-1zM68 260h1v1h-1zM548 260h1v1h-1zM68 261h1v1h-1zM548 261h1v1h-1zM68 262h1v1h-1zM548 262h1v1h-1zM68 263h1v1h-1zM548 263h1v1h-1zM68 264h1v1h-1zM548 264h1v1h-1zM68 265h1v1h-1zM548 265h1v1h-1zM68 266h1v1h-1zM548 266h1v1h-1zM68 267h1v1h-1zM548 267h1v1h-1zM68 268h1v1h-1zM548 268h1v1h-1zM68 269h1v1h-1zM548 269h1v1h-1zM68 270h1v1h-1zM548 270h1v1h-1zM68 271h1v1h-1zM548 271h1v1h-1zM68 272h1v1h-1zM548 272h1v1h-1zM68 273h1v1h-1zM548 273h1v1h-1zM68 274h1v1h-1zM548 274h1v1h-1zM68 275h1v1h-1zM548 275h1v1h-1zM68 276h1v1h-1zM548 276h1v1h-1zM68 277h1v1h-1zM548 277h5v1h-5zM68 278h1v1h-1zM548 278h1v1h-1zM68 279h1v1h-1zM548 279h1v1h-1zM68 280h1v1h-1zM548 280h1v1h-1zM68 281h1v1h-1zM548 281h1v1h-1zM68 282h1v1h-1zM548 282h1v1h-1zM68 283h1v1h-1zM548 283h1v1h-1zM68 284h1v1h-1zM548 284h1v1h-1zM68 285h1v1h-1zM548 285h1v1h-1zM68 286h1v1h-1zM548 286h1v1h-1zM68 287h1v1h-1zM548 287h1v1h-1zM68 288h1v1h-1zM548 288h1v1h-1zM68 289h1v1h-1zM548 289h1v1h-1zM68 290h1v1h-1zM548 290h1v1h-1zM68 291h1v1h-1zM548 291h1v1h-1zM64 292h5v1h-5zM548 292h1v1h-1zM68 293h1v1h-1zM548 293h1v1h-1zM68 294h1v1h-1zM548 294h1v1h-1zM68 295h1v1h-1zM548 295h1v1h-1zM68 296h1v1h-1zM548 296h1v1h-1zM68 297h1v1h-1zM548 297h1v1h-1zM68 298h1v1h-1zM548 298h1v1h-1zM68 299h1v1h-1zM548 299h1v1h-1zM68 300h1v1h-1zM548 300h1v1h-1zM68 301h1v1h-1zM548 301h1v1h-1zM68 302h1v1h-1zM548 302h1v1h-1zM68 303h1v1h-1zM548 303h1v1h-1zM68 304h1v1h-1zM548 304h1v1h-1zM68 305h1v1h-1zM548 305h1v1h-1zM68 306h1v1h-1zM548 306h1v1h-1zM68 307h1v1h-1zM548 307h1v1h-1zM68 308h1v1h-1zM548 308h1v1h-1zM68 309h1v1h-1zM548 309h1v1h-1zM68 310h1v1h-1zM548 310h1v1h-1zM68 311h1v1h-1zM548 311h1v1h-1zM68 312h1v1h-1zM548 312h1v1h-1zM68 313h1v1h-1zM548 313h1v1h-1zM68 314h1v1h-1zM548 314h1v1h-1zM68 315h1v1h-1zM548 315h1v1h-1zM68 316h1v1h-1zM548 316h1v1h-1zM68 317h1v1h-1zM548 317h1v1h-1zM68 318h1v1h-1zM548 318h1v1h-1zM68 319h1v1h-1zM548 319h1v1h-1zM68 320h1v1h-1zM548 320h1v1h-1zM68 321h1v1h-1zM548 321h1v1h-1zM68 322h1v1h-1zM548 322h1v1h-1zM68 323h1v1h-1zM548 323h1v1h-1zM68 324h1v1h-1zM548 324h1v1h-1zM68 325h1v1h-1zM548 325h1v1h-1zM68 326h1v1h-1zM548 326h1v1h-1zM68 327h1v1h-1zM548 327h1v1h-1zM68 328h1v1h-1zM548 328h1v1h-1zM68 329h1v1h-1zM548 329h1v1h-1zM68 330h1v1h-1zM548 330h1v1h-1zM68 331h1v1h-1zM548 331h1v1h-1zM68 332h1v1h-1zM548 332h1v1h-1zM68 333h1v1h-1zM548 333h1v1h-1zM68 334h1v1h-1zM548 334h1v1h-1zM64 335h5v1h-5zM548 335h1v1h-1zM68 336h1v1h-1zM548 336h1v1h-1zM68 337h1v1h-1zM548 337h1v1h-1zM68 338h1v1h-1zM548 338h1v1h-1zM68 339h1v1h-1zM548 339h1v1h-1zM68 340h1v1h-1zM548 340h1v1h-1zM68 341h1v1h-1zM548 341h1v1h-1zM68 342h1v1h-1zM548 342h1v1h-1zM68 343h1v1h-1zM548 343h1v1h-1zM68 344h1v1h-1zM548 344h1v1h-1zM68 345h1v1h-1zM548 345h1v1h-1zM68 346h1v1h-1zM548 346h1v1h-1zM68 347h1v1h-1zM548 347h1v1h-1zM68 348h1v1h-1zM548 348h1v1h-1zM68 349h1v1h-1zM548 349h1v1h-1zM68 350h1v1h-1zM548 350h1v1h-1zM68 351h1v1h-1zM548 351h1v1h-1zM68 352h1v1h-1zM548 352h5v1h-5zM68 353h1v1h-1zM548 353h1v1h-1zM68 354h1v1h-1zM548 354h1v1h-1zM68 355h1v1h-1zM548 355h1v1h-1zM68 356h1v1h-1zM548 356h1v1h-1zM68 357h1v1h-1zM548 357h1v1h-1zM68 358h1v1h-1zM548 358h1v1h-1zM68 359h1v1h-1zM548 359h1v1h-1zM68 360h1v1h-1zM548 360h1v1h-1zM68 361h1v1h-1zM548 361h1v1h-1zM68 362h1v1h-1zM548 362h1v1h-1zM68 363h1v1h-1zM548 363h1v1h-1zM68 364h1v1h-1zM548 364h1v1h-1zM68 365h1v1h-1zM548 365h1v1h-1zM68 366h1v1h-1zM548 366h1v1h-1zM68 367h1v1h-1zM548 367h1v1h-1zM68 368h1v1h-1zM548 368h1v1h-1zM68 369h1v1h-1zM548 369h1v1h-1zM68 370h1v1h-1zM548 370h1v1h-1zM68 371h1v1h-1zM548 371h1v1h-1zM68 372h1v1h-1zM548 372h1v1h-1zM68 373h1v1h-1zM548 373h1v1h-1zM68 374h1v1h-1zM548 374h1v1h-1zM68 375h1v1h-1zM548 375h1v1h-1zM68 376h1v1h-1zM548 376h1v1h-1zM64 377h5v1h-5zM548 377h1v1h-1zM68 378h1v1h-1zM548 378h1v1h-1zM68 379h1v1h-1zM548 379h1v1h-1zM68 380h1v1h-1zM548 380h1v1h-1zM68 381h1v1h-1zM548 381h1v1h-1zM68 382h1v1h-1zM548 382h1v1h-1zM68 383h1v1h-1zM548 383h1v1h-1zM68 384h1v1h-1zM548 384h1v1h-1zM68 385h1v1h-1zM548 385h1v1h-1zM68 386h1v1h-1zM548 386h1v1h-1zM68 387h1v1h-1zM548 387h1v1h-1zM68 388h1v1h-1zM548 388h1v1h-1zM68 389h1v1h-1zM548 389h1v1h-1zM68 390h1v1h-1zM548 390h1v1h-1zM68 391h1v1h-1zM548 391h1v1h-1zM68 392h1v1h-1zM548 392h1v1h-1zM68 393h1v1h-1zM548 393h1v1h-1zM68 394h1v1h-1zM548 394h1v1h-1zM68 395h1v1h-1zM548 395h1v1h-1zM68 396h1v1h-1zM548 396h1v1h-1zM68 397h1v1h-1zM548 397h1v1h-1zM68 398h1v1h-1zM548 398h1v1h-1zM68 399h1v1h-1zM548 399h1v1h-1zM68 400h1v1h-1zM548 400h1v1h-1zM68 401h1v1h-1zM548 401h1v1h-1zM68 402h1v1h-1zM548 402h1v1h-1zM68 403h1v1h-1zM548 403h1v1h-1zM68 404h1v1h-1zM548 404h1v1h-1zM68 405h1v1h-1zM548 405h1v1h-1zM68 406h1v1h-1zM548 406h1v1h-1zM68 407h1v1h-1zM548 407h1v1h-1zM68 408h1v1h-1zM548 408h1v1h-1zM68 409h1v1h-1zM548 409h1v1h-1zM68 410h1v1h-1zM548 410h1v1h-1zM68 411h1v1h-1zM548 411h1v1h-1zM68 412h1v1h-1zM548 412h1v1h-1zM68 413h1v1h-1zM548 413h1v1h-1zM68 414h1v1h-1zM548 414h1v1h-1zM68 415h1v1h-1zM548 415h1v1h-1zM68 416h1v1h-1zM548 416h1v1h-1zM68 417h1v1h-1zM548 417h1v1h-1zM68 418h1v1h-1zM548 418h1v1h-1zM64 419h5v1h-5zM548 419h1v1h-1zM68 420h1v1h-1zM548 420h1v1h-1zM68 421h1v1h-1zM548 421h1v1h-1zM68 422h1v1h-1zM548 422h1v1h-1zM68 423h1v1h-1zM548 423h1v1h-1zM68 424h1v1h-1zM548 424h1v1h-1zM68 425h1v1h-1zM548 425h1v1h-1zM68 426h1v1h-1zM548 426h1v1h-1zM68 427h485v1h-485zM102 428h1v1h-1zM171 428h1v1h-1zM239 428h1v1h-1zM308 428h1v1h-1zM377 428h1v1h-1zM445 428h1v1h-1zM514 428h1v1h-1zM102 429h1v1h-1zM171 429h1v1h-1zM239 429h1v1h-1zM308 429h1v1h-1zM377 429h1v1h-1zM445 429h1v1h-1zM514 429h1v1h-1zM102 430h1v1h-1zM171 430h1v1h-1zM239 430h1v1h-1zM308 430h1v1h-1zM377 430h1v1h-1zM445 430h1v1h-1zM514 430h1v1h-1zM102 431h1v1h-1zM171 431h1v1h-1zM239 431h1v1h-1zM308 431h1v1h-1zM377 431h1v1h-1zM445 431h1v1h-1zM514 431h1v1h-1z"/>
</g>
<text x="103.6" y="450" text-anchor="middle">6</text>
<text x="172.2" y="450" text-anchor="middle">8</text>
<text x="241.1" y="450" text-anchor="middle">10</text>
<text x="309.7" y="450" text-anchor="middle">12</text>
<text x="378.3" y="450" text-anchor="middle">14</text>
<text x="446.8" y="450" text-anchor="middle">16</text>
<text x="515.4" y="450" text-anchor="middle">18</text>
<text x="55" y="423.0" text-anchor="end">0</text>
<text x="55" y="381.0" text-anchor="end">5</text>
<text x="55" y="339.0" text-anchor="end">10</text>
<text x="55" y="296.0" text-anchor="end">15</text>
<text x="55" y="254.0" text-anchor="end">20</text>
<text x="55" y="212.0" text-anchor="end">25</text>
<text x="55" y="170.0" text-anchor="end">30</text>
<text x="55" y="128.0" text-anchor="end">35</text>
<text x="55" y="86.0" text-anchor="end">40</text>
<text x="55" y="44.0" text-anchor="end">45</text>
<text x="560.8" y="431.0" text-anchor="start">-10</text>
<text x="565.0" y="356.0" text-anchor="start">0</text>
<text x="565.0" y="281.0" text-anchor="start">10</text>
<text x="565.0" y="206.0" text-anchor="start">20</text>
<text x="565.0" y="131.0" text-anchor="start">30</text>
<text x="565.0" y="56.0" text-anchor="start">40</text>
<text x="210.48" y="472.00" textLength="195.06" lengthAdjust="spacing">Local time (Europe/Athens)</text>
<text transform="translate(17.00,317.90) rotate(-90)" textLength="192.00" lengthAdjust="spacing">Wind speed (kn - Beaufort)</text>
<text transform="translate(607.00,293.03) rotate(-90)" textLength="144.37" lengthAdjust="spacing">Temperature (C - F)</text>
<text x="247.79" y="31.20" textLength="233.45" lengthAdjust="spacing">Wind speed, gusts, and direction</text>
<text x="417.55" y="46.20" textLength="64.63" lengthAdjust="spacing">Pressure</text>
<text x="388.71" y="61.20" textLength="92.27" lengthAdjust="spacing">Temperature</text>
</svg></body></html>
